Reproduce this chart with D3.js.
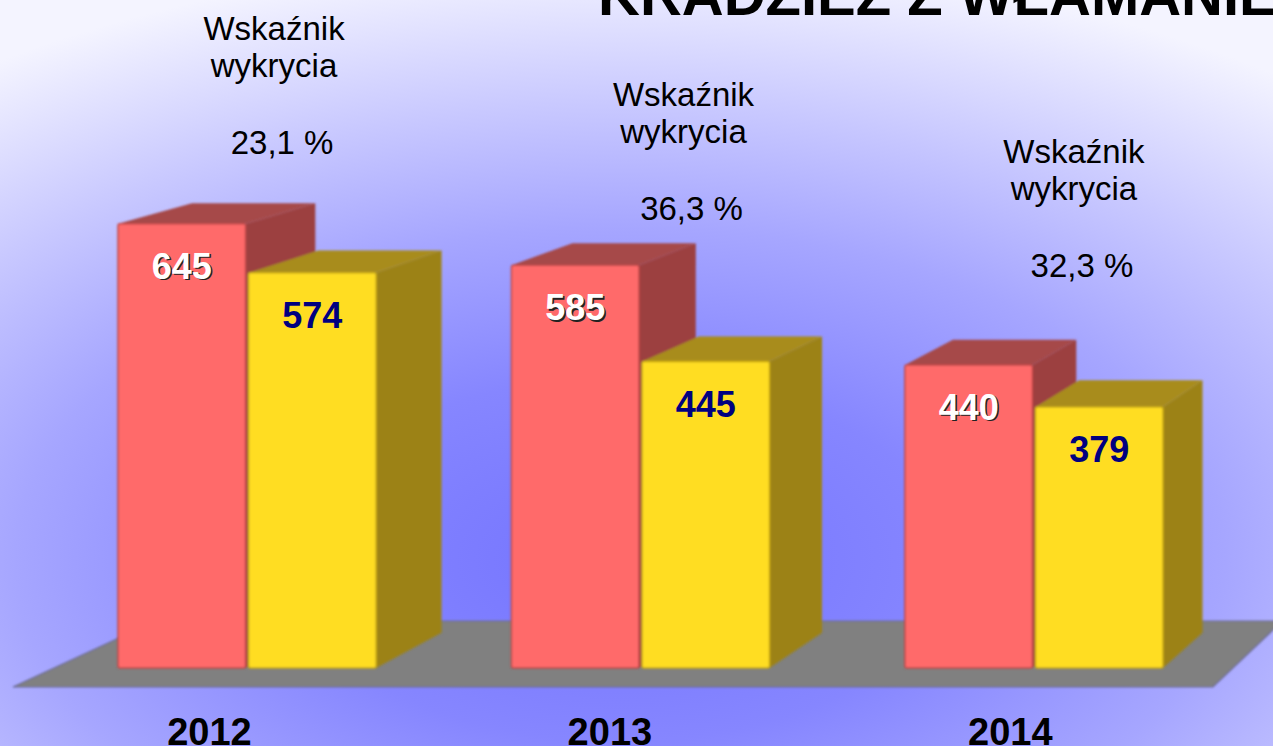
<!DOCTYPE html>
<html>
<head>
<meta charset="utf-8">
<script src="https://cdn.jsdelivr.net/npm/d3@7/dist/d3.min.js"></script>
<style>
    html, body { margin: 0; padding: 0; overflow: hidden; }
    text { font-family: "Liberation Sans", Arial, sans-serif; }
</style>
</head>
<body>
<svg id="chart" width="1273" height="746"></svg>
<script>
// Data
const years = ["2012", "2013", "2014"];
const series = ["stwierdzone", "wykryte"];
const stwierdzone = [645, 585, 440];
const wykryte = [574, 445, 379];
const wskaznik = ["23,1", "36,3", "32,3"];
const title = "KRADZIEŻ Z WŁAMANIEM";

chart = function(){

    const width = 1273, height = 746;
    // vanishing point of the 3D view, and depth factors
    const V = {x: 2360, y: -400};
    const barDepth = 0.967;
    const floorFront = 1.0178, floorBack = 0.956;

    // layout of the "Wskaźnik wykrycia" notes (not data)
    const noteDx = [27, 43, 40];
    const noteY = [40, 106, 163];

    const colors = {
        stwierdzone: {front: "#ff6a6a", top: "#a64848", side: "#9c4040", edge: "#c04848"},
        wykryte: {front: "#ffdd22", top: "#a88c1a", side: "#9c8218", edge: "#c8a818"}
    };

    let svg = d3.select("#chart");

    let x = d3.scaleBand().domain(years).range([118, 1163]).paddingInner(0.344).paddingOuter(0);
    let xSub = d3.scaleBand().domain(series).range([0, x.bandwidth()]).paddingInner(0.023);
    let y = d3.scaleLinear().domain([0, 970]).range([668, 0]);

    /**
     * Moves a front plane point back (s<1) or forward (s>1) towards the vanishing point
     */
    function project(px, py, s){
        return [V.x + (px - V.x) * s, V.y + (py - V.y) * s];
    }

    function init(){
        drawBackground();
        drawFloor();
        drawBars();
        drawTexts();
    }

    function drawBackground(){
        let defs = svg.append("defs");
        let grad = defs.append("radialGradient")
            .attr("id", "bg")
            .attr("gradientUnits", "userSpaceOnUse")
            .attr("cx", 620).attr("cy", 560).attr("r", 1100)
            .attr("gradientTransform", "translate(620,560) scale(1,0.55) translate(-620,-560)");
        grad.append("stop").attr("offset", 0).attr("stop-color", "#7474ff");
        grad.append("stop").attr("offset", 0.3).attr("stop-color", "#8686ff");
        grad.append("stop").attr("offset", 0.55).attr("stop-color", "#a6a6ff");
        grad.append("stop").attr("offset", 0.75).attr("stop-color", "#c8c8ff");
        grad.append("stop").attr("offset", 1).attr("stop-color", "#f4f4ff");

        defs.append("filter").attr("id", "soft")
            .append("feGaussianBlur").attr("stdDeviation", 0.8);

        svg.append("rect")
            .attr("width", width).attr("height", height)
            .attr("fill", "url(#bg)");
    }

    function drawFloor(){
        let fx0 = x.range()[0] - 64, fx1 = x.range()[1] + 70;
        let base = y(0);
        let pts = [
            project(fx0, base, floorFront),
            project(fx1, base, floorFront),
            project(fx1, base, floorBack),
            project(fx0, base, floorBack)
        ];
        svg.append("path")
            .attr("d", d3.line()(pts) + "Z")
            .attr("fill", "#808080")
            .attr("stroke", "#6c6c98")
            .attr("stroke-width", 1.2)
            .attr("filter", "url(#soft)");
    }

    function drawBars(){
        let bars = [];
        years.forEach((yr, i) => {
            bars.push({year: yr, key: "stwierdzone", value: stwierdzone[i]});
            bars.push({year: yr, key: "wykryte", value: wykryte[i]});
        });

        let g = svg.append("g").attr("filter", "url(#soft)");
        for(let b of bars){
            let x0 = x(b.year) + xSub(b.key);
            let x1 = x0 + xSub.bandwidth();
            let yt = y(b.value), yb = y(0);
            let c = colors[b.key];

            let side = [project(x1, yt, 1), project(x1, yb, 1), project(x1, yb, barDepth), project(x1, yt, barDepth)];
            let top = [project(x0, yt, 1), project(x1, yt, 1), project(x1, yt, barDepth), project(x0, yt, barDepth)];

            g.append("path").attr("d", d3.line()(side) + "Z").attr("fill", c.side);
            g.append("path").attr("d", d3.line()(top) + "Z").attr("fill", c.top);
            g.append("rect")
                .attr("x", x0).attr("y", yt)
                .attr("width", x1 - x0).attr("height", yb - yt)
                .attr("rx", 2)
                .attr("fill", c.front)
                .attr("stroke", c.edge).attr("stroke-width", 1.5);
        }

        // value labels
        for(let b of bars){
            let cx = x(b.year) + xSub(b.key) + xSub.bandwidth() / 2;
            let ty = y(b.value) + 55;
            if(b.key == "stwierdzone"){
                svg.append("text")
                    .attr("x", cx + 1.5).attr("y", ty + 1.5)
                    .attr("text-anchor", "middle")
                    .attr("font-size", 36).attr("font-weight", "bold")
                    .attr("fill", "#222")
                    .text(b.value);
            }
            svg.append("text")
                .attr("x", cx).attr("y", ty)
                .attr("text-anchor", "middle")
                .attr("font-size", 36).attr("font-weight", "bold")
                .attr("fill", b.key == "stwierdzone" ? "#ffffff" : "#000080")
                .text(b.value);
        }
    }

    function drawTexts(){
        // title, mostly cut off by the top edge
        svg.append("text")
            .attr("x", 598).attr("y", 15)
            .attr("font-size", 58).attr("font-weight", "bold")
            .attr("fill", "#000")
            .text(title);

        years.forEach((yr, i) => {
            let cx = x(yr) + x.bandwidth() / 2;
            // year under the floor
            svg.append("text")
                .attr("x", project(cx, y(0), floorFront)[0]).attr("y", 745)
                .attr("text-anchor", "middle")
                .attr("font-size", 38).attr("font-weight", "bold")
                .attr("fill", "#000")
                .text(yr);

            let note = svg.append("text")
                .attr("text-anchor", "middle")
                .attr("font-size", 33)
                .attr("fill", "#000");
            note.append("tspan").attr("x", cx + noteDx[i]).attr("y", noteY[i]).text("Wskaźnik");
            note.append("tspan").attr("x", cx + noteDx[i]).attr("y", noteY[i] + 37).text("wykrycia");
            note.append("tspan").attr("x", cx + noteDx[i] + 8).attr("y", noteY[i] + 114).text(wskaznik[i] + " %");
        });
    }

    return {
        init: init
    }
}();

chart.init();
</script>
</body>
</html>
